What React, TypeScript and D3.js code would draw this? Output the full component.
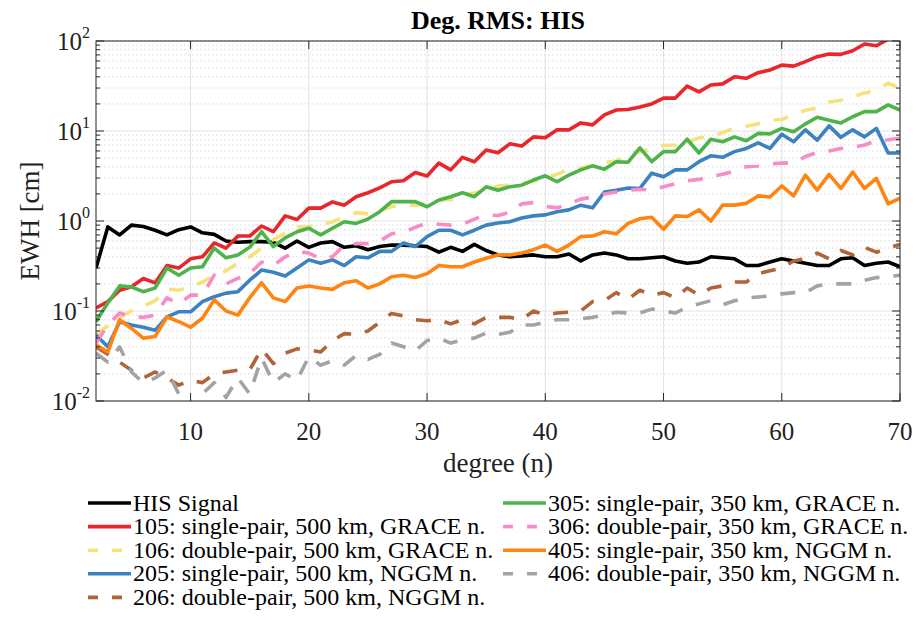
import React from "react";
import * as d3 from "d3";

const degrees: number[] = d3.range(2, 71);

const hisSignal = [0.30,0.86,0.70,0.90,0.87,0.79,0.70,0.80,0.86,0.74,0.71,0.60,0.58,0.59,0.59,0.58,0.50,0.60,0.51,0.57,0.59,0.51,0.53,0.48,0.52,0.54,0.54,0.53,0.52,0.45,0.51,0.46,0.55,0.47,0.42,0.40,0.41,0.42,0.40,0.40,0.43,0.36,0.42,0.44,0.42,0.38,0.38,0.39,0.40,0.36,0.34,0.35,0.40,0.39,0.38,0.32,0.32,0.35,0.38,0.36,0.34,0.32,0.32,0.38,0.39,0.32,0.34,0.35,0.31];
const s105 = [0.108,0.127,0.17,0.186,0.23,0.205,0.32,0.30,0.38,0.40,0.57,0.50,0.68,0.68,0.88,0.76,1.14,1.04,1.39,1.39,1.63,1.5,1.86,2.06,2.33,2.73,2.8,3.45,3.16,4.4,3.7,5.1,4.56,6.15,5.74,7.2,6.8,8.6,8.4,10.3,10.3,12.3,11.7,15.1,17.1,17.3,18.5,20,23.2,23.2,31.6,27.2,32.4,33.4,40,38.5,44.5,47.6,54,52.6,59,67,71.5,71,78,92.6,88.5,105,110];
const s106 = [0.055,0.068,0.085,0.1,0.113,0.13,0.175,0.17,0.185,0.21,0.25,0.28,0.34,0.40,0.5,0.62,0.73,0.86,0.86,0.90,0.98,1.1,1.24,1.2,1.3,1.45,1.5,1.5,1.55,1.7,1.72,1.95,2.05,2.2,2.45,2.5,2.6,2.8,3.0,3.3,3.8,3.9,4.1,4.5,4.6,5.6,5.9,6.3,6.9,7.0,7.5,8.4,8.6,9.6,10.8,11.3,12,13.2,13.4,15.2,17,18,21,22,24,26.5,28,34,30];
const s205 = [0.054,0.040,0.076,0.07,0.066,0.061,0.086,0.098,0.098,0.127,0.144,0.158,0.164,0.22,0.285,0.27,0.245,0.30,0.37,0.34,0.37,0.32,0.40,0.39,0.46,0.46,0.57,0.52,0.67,0.79,0.79,0.70,0.79,0.90,0.95,0.98,1.08,1.14,1.17,1.27,1.33,1.5,1.4,2.1,2.2,2.33,2.3,3.4,3.1,3.7,3.7,4.56,5.3,5.1,5.9,6.4,7.4,6.4,9.2,7.6,10.3,7.9,11.4,8.5,10.3,8.6,10.7,5.7,5.7];
const s206 = [0.040,0.033,0.027,0.022,0.018,0.021,0.018,0.015,0.017,0.016,0.02,0.021,0.022,0.022,0.038,0.026,0.034,0.038,0.037,0.035,0.047,0.056,0.055,0.06,0.075,0.094,0.088,0.08,0.078,0.08,0.072,0.08,0.072,0.085,0.085,0.085,0.08,0.1,0.09,0.095,0.097,0.1,0.127,0.13,0.16,0.135,0.17,0.15,0.16,0.14,0.18,0.15,0.18,0.19,0.21,0.21,0.26,0.28,0.30,0.36,0.38,0.44,0.38,0.47,0.42,0.51,0.45,0.5,0.55];
const s305 = [0.076,0.123,0.19,0.185,0.164,0.18,0.30,0.25,0.30,0.31,0.50,0.39,0.42,0.51,0.76,0.52,0.65,0.76,0.83,0.70,0.83,0.98,0.94,1.05,1.27,1.64,1.64,1.64,1.44,1.71,1.86,2.06,1.86,2.4,2.2,2.4,2.5,2.85,3.18,2.73,3.24,3.7,4.1,3.76,4.56,4.5,6.5,4.56,5.9,5.9,8.1,5.7,8.1,7.6,8.6,7.8,9.4,9.3,10.7,9.8,12.0,14.2,13.2,12.3,14.4,16.4,16.4,19.5,17.1];
const s306 = [0.044,0.07,0.095,0.086,0.085,0.09,0.14,0.12,0.15,0.15,0.25,0.2,0.23,0.26,0.35,0.32,0.40,0.46,0.44,0.38,0.40,0.54,0.56,0.56,0.6,0.72,0.75,0.85,0.95,0.92,0.9,0.92,1.05,1.17,1.15,1.25,1.55,1.6,1.45,1.4,1.55,1.75,1.85,2.0,2.1,2.2,2.25,2.2,2.4,2.6,2.8,2.9,3.1,3.3,3.6,4.0,4.1,4.3,4.4,4.4,5.2,5.8,6.0,6.4,6.6,7.0,7.8,8.0,8.3];
const s405 = [0.042,0.035,0.08,0.064,0.050,0.052,0.086,0.076,0.066,0.083,0.133,0.10,0.090,0.14,0.206,0.14,0.127,0.18,0.19,0.18,0.174,0.206,0.217,0.18,0.20,0.24,0.25,0.236,0.26,0.32,0.31,0.31,0.35,0.385,0.42,0.42,0.44,0.48,0.54,0.46,0.54,0.67,0.68,0.76,0.72,0.94,1.06,1.1,0.81,1.14,1.12,1.33,1.0,1.5,1.5,1.57,1.9,1.85,2.45,1.9,3.24,2.2,3.3,2.3,3.5,2.3,2.98,1.55,1.79];
const s406 = [0.034,0.027,0.04,0.021,0.016,0.018,0.022,0.012,0.008,0.012,0.016,0.011,0.018,0.012,0.03,0.016,0.02,0.017,0.031,0.025,0.028,0.025,0.032,0.029,0.033,0.044,0.04,0.036,0.047,0.05,0.044,0.048,0.05,0.057,0.055,0.058,0.07,0.07,0.075,0.08,0.08,0.082,0.085,0.09,0.097,0.095,0.095,0.105,0.1,0.095,0.11,0.12,0.13,0.117,0.13,0.14,0.143,0.147,0.155,0.16,0.16,0.19,0.2,0.2,0.2,0.22,0.235,0.24,0.25];

const seriesLabels = [
  "HIS Signal",
  "105: single-pair, 500 km, GRACE n.",
  "106: double-pair, 500 km, GRACE n.",
  "205: single-pair, 500 km, NGGM n.",
  "206: double-pair, 500 km, NGGM n.",
  "305: single-pair, 350 km, GRACE n.",
  "306: double-pair, 350 km, GRACE n.",
  "405: single-pair, 350 km, NGGM n.",
  "406: double-pair, 350 km, NGGM n.",
];
const seriesValues = [hisSignal, s105, s106, s205, s206, s305, s306, s405, s406];
const seriesColors = ["#000000", "#e8262b", "#f4e27c", "#3b82c0", "#b0643a", "#4db34a", "#f78cc8", "#ff8412", "#a3a3a3"];
const seriesDashed = [false, false, true, false, true, false, true, false, true];

const xTicks = [10, 20, 30, 40, 50, 60, 70];
const yExponents = [-2, -1, 0, 1, 2];

const W = 916, H = 628;
const L = 96, R = 900, T = 41, B = 401;
const FONT = "'Times New Roman', 'Liberation Serif', 'DejaVu Serif', serif";
const AX = "#262626";
const tStyle = { fontFamily: FONT };

export default function App() {
  const x = d3.scaleLinear().domain([2, 70]).range([L, R]);
  const y = d3.scaleLog().domain([0.01, 100]).range([B, T]);
  const line = d3.line<[number, number]>().x(d => x(d[0])).y(d => y(d[1]));

  const minors: number[] = [];
  for (let e = -2; e < 2; e++) for (let m = 2; m <= 9; m++) minors.push(m * Math.pow(10, e));

  const legendRows = seriesLabels.map((lab, i) => {
    const col = i < 5 ? 0 : 1;
    const row = i < 5 ? i : i - 5;
    return { lab, i, col, row };
  });

  return (
    <svg width={W} height={H} style={{ position: "absolute", left: 0, top: 0, background: "#fff", fontFamily: FONT }}>
      <defs>
        <clipPath id="plotclip"><rect x={L} y={T} width={R - L} height={B - T} /></clipPath>
      </defs>
      <rect x={0} y={0} width={W} height={H} fill="#fff" />
      {minors.map((v, i) => (
        <line key={"mg" + i} x1={L} x2={R} y1={y(v)} y2={y(v)} stroke="#d0d0d0" strokeWidth={0.8} strokeDasharray="1.5 2.5" />
      ))}
      {yExponents.map(e => (
        <line key={"yg" + e} x1={L} x2={R} y1={y(Math.pow(10, e))} y2={y(Math.pow(10, e))} stroke="#e2e2e2" strokeWidth={1} />
      ))}
      {xTicks.map(t => (
        <line key={"xg" + t} x1={x(t)} x2={x(t)} y1={T} y2={B} stroke="#e2e2e2" strokeWidth={1} />
      ))}
      <g clipPath="url(#plotclip)">
        {seriesValues.map((vals, i) => (
          <path key={"s" + i}
            d={line(vals.map((v, k) => [degrees[k], v] as [number, number])) || ""}
            fill="none" stroke={seriesColors[i]} strokeWidth={3.6}
            strokeLinejoin="round"
            strokeDasharray={seriesDashed[i] ? "15 14" : undefined} />
        ))}
      </g>
      <rect x={L} y={T} width={R - L} height={B - T} fill="none" stroke={AX} strokeWidth={1} />
      {xTicks.map(t => (
        <g key={"xt" + t}>
          <line x1={x(t)} x2={x(t)} y1={B} y2={B - 8} stroke={AX} />
          <line x1={x(t)} x2={x(t)} y1={T} y2={T + 8} stroke={AX} />
          <text style={tStyle} x={x(t)} y={B + 39} textAnchor="middle" fontSize={25} fill="#222">{t}</text>
        </g>
      ))}
      {yExponents.map(e => (
        <g key={"yt" + e}>
          <line x1={L} x2={L + 8} y1={y(Math.pow(10, e))} y2={y(Math.pow(10, e))} stroke={AX} />
          <line x1={R} x2={R - 8} y1={y(Math.pow(10, e))} y2={y(Math.pow(10, e))} stroke={AX} />
          <text style={tStyle} x={L - 6} y={y(Math.pow(10, e)) + 9} textAnchor="end" fontSize={25} fill="#222">
            10<tspan fontSize={16} dy={-12}>{e}</tspan>
          </text>
        </g>
      ))}
      {minors.map((v, i) => (
        <g key={"ym" + i}>
          <line x1={L} x2={L + 4} y1={y(v)} y2={y(v)} stroke={AX} />
          <line x1={R} x2={R - 4} y1={y(v)} y2={y(v)} stroke={AX} />
        </g>
      ))}
      <text style={tStyle} x={(L + R) / 2} y={29} textAnchor="middle" fontSize={26} fontWeight="bold" fill="#000">Deg. RMS: HIS</text>
      <text style={tStyle} x={(L + R) / 2} y={472} textAnchor="middle" fontSize={27} fill="#222">degree (n)</text>
      <text style={tStyle} transform={`translate(39, ${(T + B) / 2}) rotate(-90)`} textAnchor="middle" fontSize={27} fill="#222">EWH [cm]</text>
      {legendRows.map(({ lab, i, col, row }) => {
        const lx = col === 0 ? 88 : 503;
        const ly = 503 + row * 23.6;
        return (
          <g key={"lg" + i}>
            <line x1={lx} x2={lx + 43} y1={ly} y2={ly} stroke={seriesColors[i]} strokeWidth={3.6}
              strokeDasharray={seriesDashed[i] ? "10 14" : undefined} />
            <text style={tStyle} x={lx + 45} y={ly + 7.5} fontSize={24} fill="#000">{lab}</text>
          </g>
        );
      })}
    </svg>
  );
}
